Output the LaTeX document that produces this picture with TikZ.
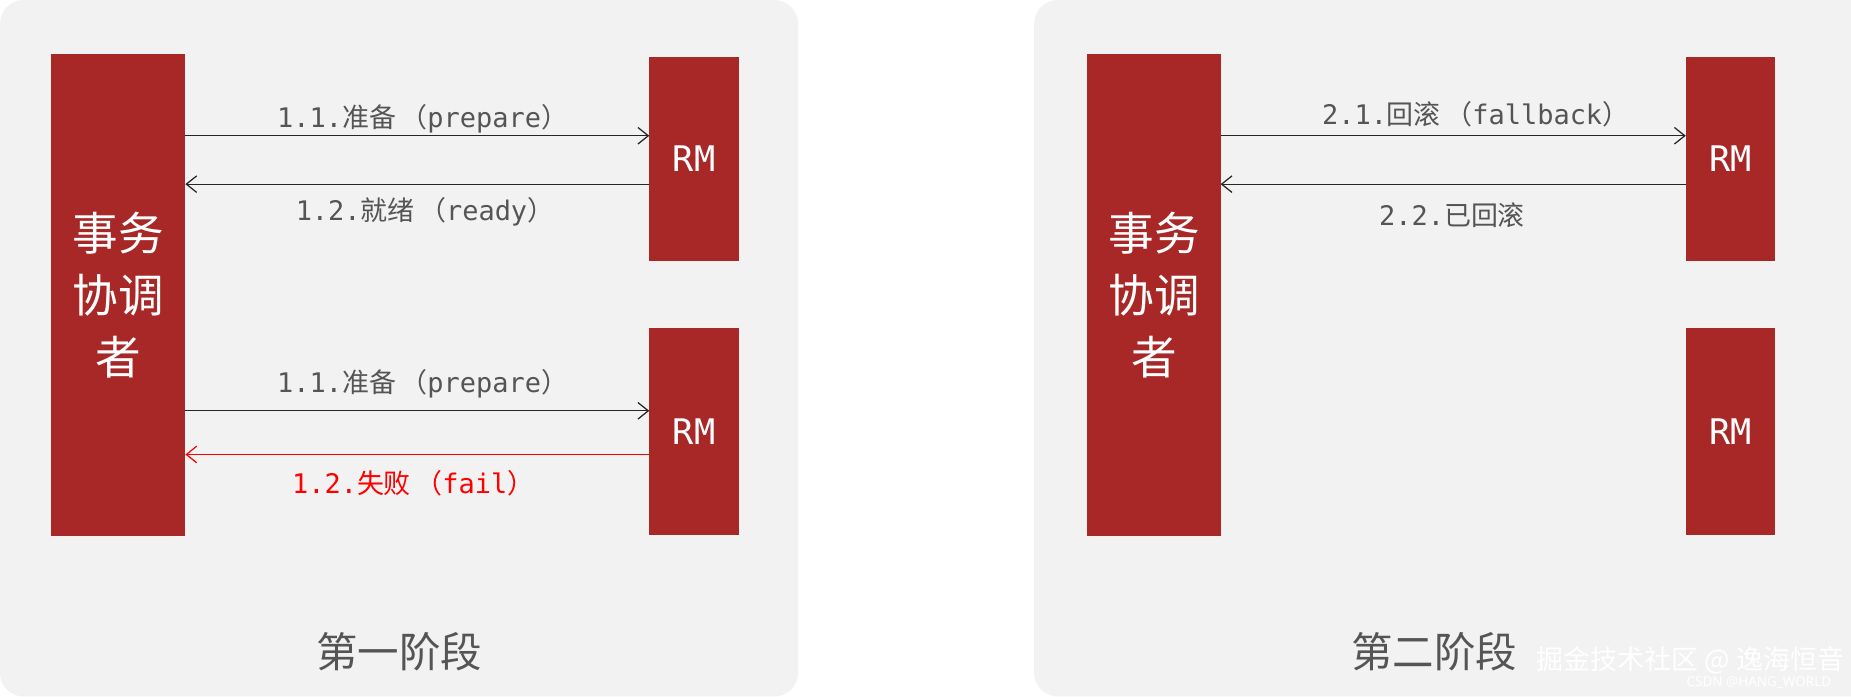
\documentclass[tikz,border=0pt]{standalone}
\usepackage{fontspec}
\setmainfont{Noto Sans}
\newfontfamily\cjk{Noto Sans CJK SC}
\newfontfamily\mono{DejaVu Sans Mono}
\usetikzlibrary{arrows.meta}
\definecolor{panel}{HTML}{F2F2F2}
\definecolor{box}{HTML}{A82828}
\definecolor{lbl}{HTML}{555555}
\begin{document}
\begin{tikzpicture}[x=0.02cm,y=-0.02cm,
  panelbox/.style={fill=panel,draw=none,rounded corners=0.4cm},
  redbox/.style={fill=box,draw=none,anchor=north west,inner sep=0,outer sep=0},
  conn/.style={draw=black!85,line width=0.6pt,-{Straight Barb[length=5pt,width=8pt]}},
  lab/.style={font=\fontsize{13}{15}\selectfont,text=lbl},
  rmtxt/.style={text=white,font=\mono\fontsize{17}{20}\selectfont},
  coordtxt/.style={text=white,font=\cjk\fontsize{22}{30}\selectfont,align=center},
  stage/.style={text=lbl,font=\cjk\fontsize{20}{24}\selectfont}]
\useasboundingbox (0,0) rectangle (1568,590);
\fill[panelbox] (0,0) rectangle (676,590);
\fill[panelbox] (876,0) rectangle (1600,590);
% left
\node[redbox,minimum width=2.28cm,minimum height=8.16cm] (c1) at (43,46) {};
\node[coordtxt] at (100,250) {事务\\协调\\者};
\node[redbox,minimum width=1.52cm,minimum height=3.46cm] (r1) at (550,48) {};
\node[redbox,minimum width=1.52cm,minimum height=3.5cm] (r2) at (550,278) {};
\node[rmtxt] at (r1.center) {RM};
\node[rmtxt] at (r2.center) {RM};
\coordinate (a1) at (157,115); \coordinate (b1) at (550,115);
\coordinate (a2) at (550,156); \coordinate (b2) at (157,156);
\coordinate (a3) at (157,348); \coordinate (b3) at (550,348);
\coordinate (a4) at (550,385); \coordinate (b4) at (157,385);
\draw[conn] (a1) -- (b1);
\draw[conn] (a2) -- (b2);
\draw[conn] (a3) -- (b3);
\draw[conn,draw=red] (a4) -- (b4);
\node[lab] (l1) at (358,101) {\mono 1.1.\cjk 准备\,（\mono prepare\cjk ）};
\node[lab] (l2) at (360,179) {\mono 1.2.\cjk 就绪\,（\mono ready\cjk ）};
\node[lab] (l3) at (358,325) {\mono 1.1.\cjk 准备\,（\mono prepare\cjk ）};
\node[lab,text=red] (l4) at (350,409) {\mono 1.2.\cjk 失败\,（\mono fail\cjk ）};
\node[stage] (s1) at (338,552) {第一阶段};
% right
\node[redbox,minimum width=2.26cm,minimum height=8.16cm] (c2) at (921,46) {};
\node[coordtxt] at (978,250) {事务\\协调\\者};
\node[redbox,minimum width=1.52cm,minimum height=3.46cm] (r3) at (1428,48) {};
\node[redbox,minimum width=1.52cm,minimum height=3.5cm] (r4) at (1428,278) {};
\node[rmtxt] at (r3.center) {RM};
\node[rmtxt] at (r4.center) {RM};
\coordinate (a5) at (1034,115); \coordinate (b5) at (1428,115);
\coordinate (a6) at (1428,156); \coordinate (b6) at (1034,156);
\draw[conn] (a5) -- (b5);
\draw[conn] (a6) -- (b6);
\node[lab] (l5) at (1250,97) {\mono 2.1.\cjk 回滚\,（\mono fallback\cjk ）};
\node[lab] (l6) at (1230,182) {\mono 2.2.\cjk 已回滚};
\node[stage] (s2) at (1215,552) {第二阶段};
\node[text=white,font=\cjk\fontsize{13}{15}\selectfont] (w1) at (1432,559) {掘金技术社区 @ 逸海恒音};
\node[text=white,font=\fontsize{6.5}{8}\selectfont] (w2) at (1490,578) {CSDN @HANG\_WORLD};
\end{tikzpicture}
\end{document}
